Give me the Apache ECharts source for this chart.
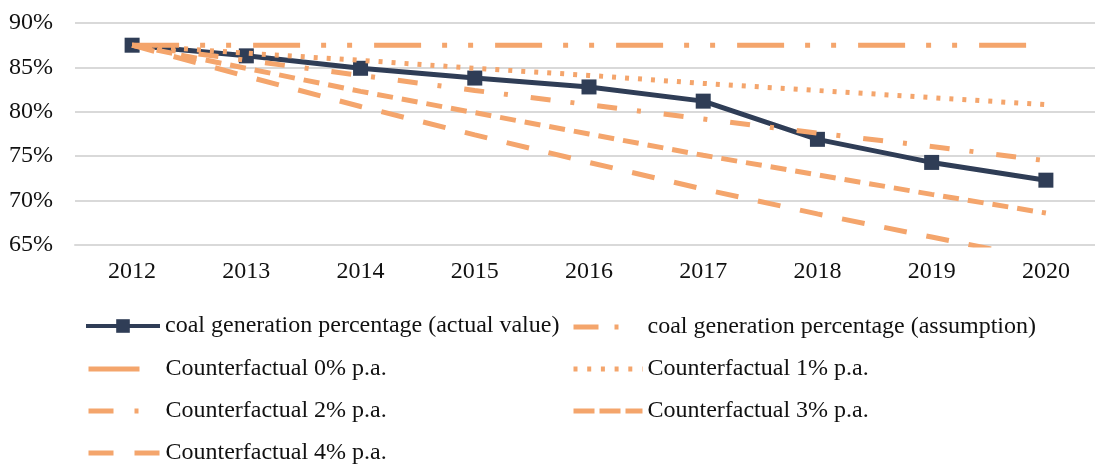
<!DOCTYPE html>
<html>
<head>
<meta charset="utf-8">
<script src="https://cdn.jsdelivr.net/npm/echarts@6/dist/echarts.min.js"></script>
<style>
html,body{margin:0;padding:0;background:#fff;}
#chart{width:1095px;height:465px;}
</style>
</head>
<body>
<div id="chart"></div>
<script>
var years = ['2012','2013','2014','2015','2016','2017','2018','2019','2020'];
var actualValue = [87.5, 86.3, 84.9, 83.8, 82.8, 81.2, 76.9, 74.3, 72.3];
var assumption = [87.5, 87.5, 87.5, 87.5, 87.5, 87.5, 87.5, 87.5, 87.5];
var cf0 = [null, null, null, null, null, null, null, null, null];
var cf1 = [87.5, 86.6, 85.8, 84.9, 84.1, 83.2, 82.4, 81.6, 80.8];
var cf2 = [87.5, 85.8, 84.1, 82.4, 80.8, 79.2, 77.6, 76.1, 74.5];
var cf3 = [87.5, 84.9, 82.3, 79.9, 77.5, 75.1, 72.9, 70.7, 68.6];
var cf4 = [87.5, 84.0, 80.6, 77.4, 74.3, 71.3, 68.5, 65.9, 63.3];
var yTicks = [65, 70, 75, 80, 85, 90];

var NAVY = '#2f3d56';
var ORANGE = '#f4a56c';
var FONT = '"Liberation Serif", "Times New Roman", serif';
var FS = 24;

var names = {
  actual: 'coal generation percentage (actual value)',
  assumption: 'coal generation percentage (assumption)',
  c0: 'Counterfactual 0% p.a.',
  c1: 'Counterfactual 1% p.a.',
  c2: 'Counterfactual 2% p.a.',
  c3: 'Counterfactual 3% p.a.',
  c4: 'Counterfactual 4% p.a.'
};

function orangeLine(name, data, dash, z) {
  return {
    name: name, type: 'line', data: data, symbol: 'none', z: z,
    lineStyle: {color: ORANGE, width: 5, type: dash, cap: 'butt'},
    itemStyle: {color: ORANGE},
    emphasis: {disabled: true}, animation: false
  };
}

var HIDE = {color: 'rgba(0,0,0,0)', borderColor: 'rgba(0,0,0,0)', borderWidth: 0, opacity: 0};

function legendAt(name, left, top, w, dash, isNavy) {
  var item = {name: name};
  if (isNavy) {
    item.lineStyle = {width: 4, color: NAVY};
  } else {
    item.itemStyle = HIDE;
    item.lineStyle = {width: 5, color: ORANGE, type: dash, cap: 'butt'};
  }
  return {
    data: [item], left: left, top: top, itemWidth: w, itemHeight: isNavy ? 17 : 14,
    selectedMode: false, itemGap: 0, padding: 0,
    textStyle: {fontFamily: FONT, fontSize: FS, color: '#111'}
  };
}

var chart = echarts.init(document.getElementById('chart'), null, {renderer: 'canvas'});
chart.setOption({
  backgroundColor: '#fff',
  animation: false,
  grid: {left: 75, width: 1028, top: 23, height: 222, containLabel: false, outerBoundsMode: 'none'},
  xAxis: {
    type: 'category', data: years, boundaryGap: true,
    axisLine: {show: true, lineStyle: {color: '#d9d9d9', width: 2}},
    axisTick: {show: false},
    axisLabel: {fontFamily: FONT, fontSize: FS, color: '#111', margin: 15}
  },
  yAxis: {
    type: 'value', min: yTicks[0], max: yTicks[yTicks.length - 1], interval: 5,
    axisLine: {show: false}, axisTick: {show: false},
    splitLine: {lineStyle: {color: '#d9d9d9', width: 2}},
    axisLabel: {fontFamily: FONT, fontSize: FS, color: '#111', margin: 22,
      formatter: function (v) { return v + '%'; }}
  },
  legend: [
    legendAt(names.actual, 84, 314, 74, null, true),
    legendAt(names.assumption, 571, 315, 69, [25, 16, 4, 40]),
    legendAt(names.c0, 86, 357, 72, [51, 40]),
    legendAt(names.c1, 571, 357, 69, [4, 9.7]),
    legendAt(names.c2, 86, 399, 72, [25, 21, 4, 40]),
    legendAt(names.c3, 571, 399, 69, [21, 5]),
    legendAt(names.c4, 86, 441, 72, [25, 21])
  ],
  series: [
    {
      name: names.actual, type: 'line', data: actualValue, z: 2,
      symbol: 'rect', symbolSize: 15,
      lineStyle: {color: NAVY, width: 5},
      itemStyle: {color: NAVY},
      emphasis: {disabled: true}
    },
    orangeLine(names.assumption, assumption, [47, 21, 5, 21, 5, 22], 3),
    orangeLine(names.c0, cf0, 'solid', 3),
    orangeLine(names.c1, cf1, [4, 9], 3),
    orangeLine(names.c2, cf2, [20, 20, 4, 23], 3),
    orangeLine(names.c3, cf3, [16, 9], 3),
    orangeLine(names.c4, cf4, [23, 20], 3)
  ]
});
</script>
</body>
</html>
